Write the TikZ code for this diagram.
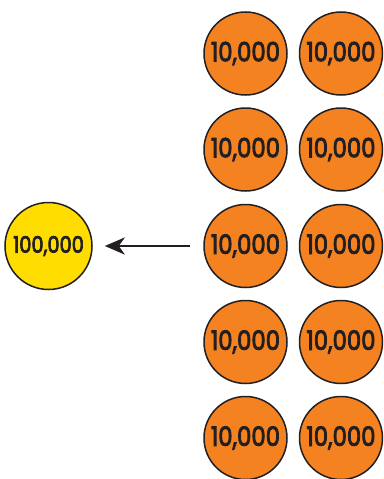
\documentclass[tikz,border=0pt]{standalone}
\usepackage{fontspec}
\setmainfont{Poppins}[BoldFont={Poppins},BoldFeatures={FakeBold=3.5}]
\usetikzlibrary{arrows.meta}
\definecolor{coinorange}{HTML}{F58220}
\definecolor{coinyellow}{HTML}{FFDD00}
\definecolor{ink}{HTML}{231F20}
\newcommand{\coinlabel}[2]{\scalebox{0.86}[1]{\fontsize{#1}{#1}\selectfont\bfseries #2}}
\tikzset{
  coin/.style={circle, draw=ink, line width=1.5pt, minimum size=83pt, inner sep=0pt, text=ink},
  orangecoin/.style={coin, fill=coinorange},
  yellowcoin/.style={coin, fill=coinyellow, minimum size=87pt},
  arrowline/.style={draw=ink, line width=2.8pt, -{Stealth[length=20pt,width=17pt,inset=6pt]}}
}
\begin{document}
\begin{tikzpicture}[x=1pt,y=-1pt]
\useasboundingbox (0,0) rectangle (383,479);
\foreach \r/\y in {1/53.5,2/149.5,3/246,4/342,5/438}{
  \node[orangecoin] (a\r) at (245.5,\y) {\coinlabel{26.5}{10,000}};
  \node[orangecoin] (b\r) at (341,\y) {\coinlabel{26.5}{10,000}};
}
\node[yellowcoin] (y) at (48.5,246) {\coinlabel{22.5}{100,000}};
\draw[arrowline, shorten <=13pt, shorten >=12pt] (a3) -- (y);
\end{tikzpicture}
\end{document}
